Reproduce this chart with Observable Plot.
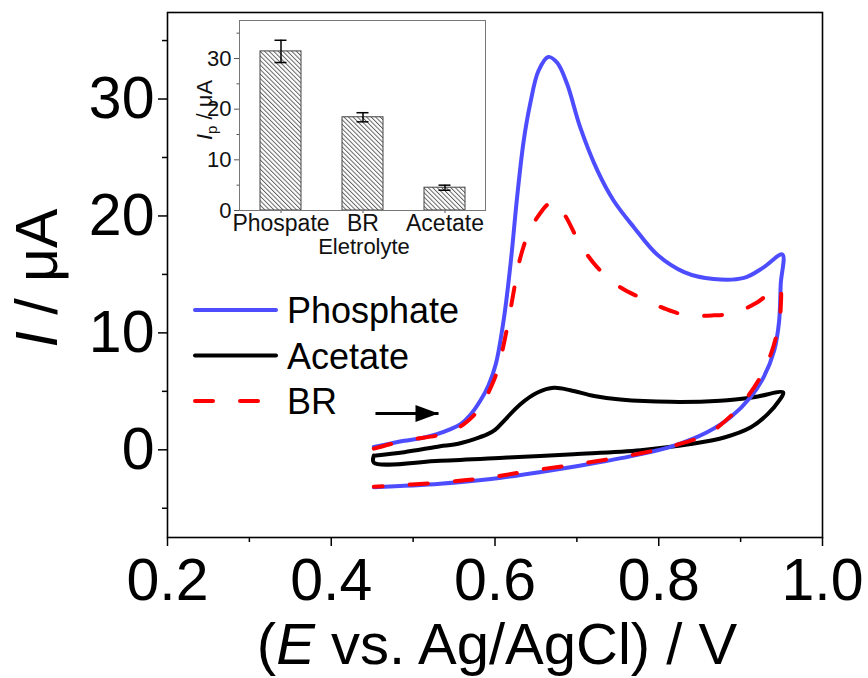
<!DOCTYPE html>
<html>
<head>
<meta charset="utf-8">
<script src="https://cdn.jsdelivr.net/npm/d3@7"></script>
<script src="https://cdn.jsdelivr.net/npm/@observablehq/plot@0.6"></script>
<style>
  html, body { margin: 0; padding: 0; background: white; }
  #chart { position: relative; width: 868px; height: 678px; }
  #chart svg { position: absolute; left: 0; top: 0; }
</style>
</head>
<body>
<div id="chart"></div>
<script>
// ---------- data ----------
const seriesNames = ["Phosphate", "Acetate", "BR"];

// cyclic voltammograms: [E (V vs Ag/AgCl), I (µA)], forward scan then reverse scan
const phosphate = [
  [0.452, 0.25], [0.470, 0.5], [0.489, 0.77], [0.510, 1.0], [0.529, 1.34], [0.545, 1.75],
  [0.558, 2.2], [0.570, 3.0], [0.582, 4.19], [0.592, 5.5], [0.601, 7.33], [0.611, 11.3],
  [0.619, 15.9], [0.627, 21.6], [0.635, 26.4], [0.643, 29.6], [0.653, 32.4], [0.665, 33.6],
  [0.676, 33.1], [0.688, 31.3], [0.704, 27.6], [0.725, 23.9], [0.745, 21.3], [0.770, 19.0],
  [0.798, 16.7], [0.831, 15.2], [0.867, 14.6], [0.904, 14.7], [0.928, 15.6], [0.951, 16.7],
  [0.949, 14.2], [0.947, 11.0], [0.941, 8.5], [0.928, 6.2], [0.912, 4.5], [0.888, 2.8],
  [0.859, 1.5], [0.818, 0.34], [0.778, -0.37], [0.717, -1.2], [0.656, -1.9], [0.595, -2.5],
  [0.533, -2.9], [0.452, -3.2]
];
const br = [
  [0.452, 0.1], [0.473, 0.5], [0.500, 0.9], [0.528, 1.2], [0.548, 1.6], [0.562, 2.2],
  [0.572, 2.8], [0.582, 3.6], [0.594, 5.2], [0.603, 6.8], [0.615, 10.5], [0.623, 13.6],
  [0.629, 15.9], [0.639, 18.2], [0.649, 19.6], [0.670, 21.2], [0.684, 20.2], [0.704, 17.6],
  [0.725, 15.6], [0.753, 13.9], [0.778, 13.0], [0.810, 12.0], [0.835, 11.5], [0.867, 11.5],
  [0.892, 11.7], [0.920, 12.6], [0.947, 13.9],
  [0.949, 12.2], [0.945, 10.2], [0.937, 8.2], [0.924, 6.2], [0.908, 4.5], [0.888, 2.9],
  [0.859, 1.34], [0.810, 0.2], [0.778, -0.3], [0.713, -1.1], [0.643, -1.8], [0.590, -2.4],
  [0.533, -2.8], [0.452, -3.15]
];
const acetate = [
  [0.452, -0.5], [0.489, -0.2], [0.533, 0.3], [0.550, 0.45], [0.574, 0.9], [0.591, 1.34],
  [0.600, 1.7], [0.611, 2.48], [0.631, 3.9], [0.652, 4.9], [0.672, 5.3], [0.692, 5.1],
  [0.721, 4.6], [0.753, 4.3], [0.814, 4.1], [0.875, 4.2], [0.916, 4.5], [0.952, 4.9],
  [0.947, 4.2], [0.933, 3.05], [0.912, 1.9], [0.880, 1.05], [0.839, 0.49], [0.778, -0.03],
  [0.696, -0.37], [0.615, -0.66], [0.533, -0.94], [0.452, -1.1], [0.452, -0.5]
];

// scan-direction arrow: [E start, E tip], current level
const arrowSpan = [0.454, 0.531];
const arrowLevel = 3.1;

// axes ticks
const xTicks = [0.2, 0.4, 0.6, 0.8, 1.0];
const xMinor = [0.3, 0.5, 0.7, 0.9];
const yTicks = [0, 10, 20, 30];
const yMinor = [-5, 5, 15, 25, 35];

// inset: peak current by electrolyte
const categories = ["Phospate", "BR", "Acetate"];
const peakCurrent = [31.4, 18.4, 4.5];
const peakError = [2.2, 0.9, 0.5];
const insetYTicks = [0, 10, 20, 30];
const insetYMinor = [5, 15, 25, 35];

// ---------- build ----------
const FONT = "'Liberation Sans', Arial, Helvetica, sans-serif";
const toRows = (arr, name) => arr.map(([E, I], i) => ({E, I, name, i}));
const colors = {Phosphate: "#4d4dff", Acetate: "#000000", BR: "#ff0000"};
const dashes = {Phosphate: null, Acetate: null, BR: "18,27"};

const arrowHead = {
  draw(ctx) { ctx.moveTo(0, 0); ctx.lineTo(-23, -8.5); ctx.lineTo(-23, 8.5); ctx.closePath(); }
};

const lineOpts = (name) => ({
  x: "E", y: "I", stroke: colors[name], strokeWidth: 4,
  strokeDasharray: dashes[name], strokeLinecap: "round", strokeLinejoin: "round",
  curve: "catmull-rom"
});

const main = Plot.plot({
  width: 868, height: 678,
  marginLeft: 167, marginRight: 46, marginTop: 12, marginBottom: 141,
  x: {domain: [0.2, 1.0]},
  y: {domain: [-7.5, 37.4]},
  style: {fontFamily: FONT, background: "white", color: "black"},
  marks: [
    Plot.axisX({ticks: xTicks, tickSize: 9, tickPadding: 12, strokeWidth: 1.5,
      tickFormat: d3.format(".1f"), fontSize: 59, label: null}),
    Plot.axisX({ticks: xMinor, tickSize: 5, strokeWidth: 1.5, tickFormat: () => "", label: null}),
    Plot.axisY({ticks: yTicks, tickSize: 9, tickPadding: 4, strokeWidth: 1.5,
      fontSize: 59, label: null}),
    Plot.axisY({ticks: yMinor, tickSize: 5, strokeWidth: 1.5, tickFormat: () => "", label: null}),
    Plot.line(toRows(acetate, "Acetate"), lineOpts("Acetate")),
    Plot.line(toRows(phosphate, "Phosphate"), lineOpts("Phosphate")),
    Plot.line(toRows(br, "BR"), lineOpts("BR")),
    Plot.link([{x1: arrowSpan[0], x2: arrowSpan[1], y: arrowLevel}],
      {x1: "x1", x2: "x2", y1: "y", y2: "y", stroke: "black", strokeWidth: 3}),
    Plot.dot([{x: arrowSpan[1], y: arrowLevel}],
      {x: "x", y: "y", symbol: arrowHead, fill: "black", stroke: "none", r: 5}),
    Plot.frame({stroke: "black", strokeWidth: 1.6})
  ]
});

// inset
const barRows = categories.map((c, i) => ({
  cat: c, v: peakCurrent[i], lo: peakCurrent[i] - peakError[i], hi: peakCurrent[i] + peakError[i]
}));

const inset = Plot.plot({
  width: 868, height: 678,
  marginLeft: 239, marginRight: 383, marginTop: 20, marginBottom: 468,
  x: {domain: categories, paddingInner: 0.5, paddingOuter: 0.25},
  y: {domain: [0, 37.5]},
  style: {fontFamily: FONT, background: "transparent", color: "#111", pointerEvents: "none"},
  marks: [
    Plot.barY(barRows, {x: "cat", y: "v", fill: "url(#hatch)", stroke: "#444", strokeWidth: 1}),
    Plot.ruleX(barRows, {x: "cat", y1: "lo", y2: "hi", stroke: "black", strokeWidth: 1.5}),
    Plot.tickY(barRows, {x: "cat", y: "lo", stroke: "black", strokeWidth: 1.5, insetLeft: 14.5, insetRight: 14.5}),
    Plot.tickY(barRows, {x: "cat", y: "hi", stroke: "black", strokeWidth: 1.5, insetLeft: 14.5, insetRight: 14.5}),
    Plot.axisX({tickSize: 3, tickPadding: 1.5, fontSize: 23, stroke: "#555", label: null}),
    Plot.axisY({ticks: insetYTicks, tickSize: 5, tickPadding: 3, fontSize: 22, stroke: "#555", label: null}),
    Plot.axisY({ticks: insetYMinor, tickSize: 2.5, stroke: "#555", tickFormat: () => "", label: null}),
    Plot.frame({stroke: "#777", strokeWidth: 1})
  ]
});

d3.select(inset).insert("defs", ":first-child").html(
  `<pattern id="hatch" patternUnits="userSpaceOnUse" width="3.2" height="3.2" patternTransform="rotate(-45)">
     <rect width="3.2" height="3.2" fill="white"></rect>
     <line x1="0.5" y1="0" x2="0.5" y2="3.2" stroke="#555" stroke-width="0.9"></line>
   </pattern>`
);

// titles & legend (real text)
const ms = d3.select(main);
ms.append("text")
  .attr("transform", "translate(57,278) rotate(-90)")
  .attr("text-anchor", "middle").attr("font-size", 59).attr("fill", "black")
  .attr("font-family", FONT)
  .call(t => {
    t.append("tspan").attr("font-style", "italic").text("I");
    t.append("tspan").text(" / μA");
  });
ms.append("text")
  .attr("x", 497).attr("y", 664)
  .attr("text-anchor", "middle").attr("font-size", 58).attr("fill", "black")
  .attr("font-family", FONT)
  .call(t => {
    t.append("tspan").text("(");
    t.append("tspan").attr("font-style", "italic").text("E");
    t.append("tspan").text(" vs. Ag/AgCl) / V");
  });

const legend = ms.append("g").attr("font-family", FONT).attr("text-anchor", "start");
seriesNames.forEach((name, i) => {
  const y = 310 + i * 45.5;
  legend.append("line")
    .attr("x1", 195).attr("x2", 276).attr("y1", y).attr("y2", y)
    .attr("stroke", colors[name]).attr("stroke-width", 4)
    .attr("stroke-linecap", "round")
    .attr("stroke-dasharray", dashes[name]);
  legend.append("text")
    .attr("x", 287).attr("y", y + 13)
    .attr("text-anchor", "start")
    .attr("font-size", 36).attr("fill", "black")
    .text(name);
});

const is = d3.select(inset);
is.append("text")
  .attr("transform", "translate(212,110) rotate(-90)")
  .attr("text-anchor", "middle").attr("font-size", 22).attr("fill", "#111")
  .attr("font-family", FONT)
  .call(t => {
    t.append("tspan").attr("font-style", "italic").text("I");
    t.append("tspan").attr("font-size", 15).attr("dy", 5).text("p");
    t.append("tspan").attr("dy", -5).text(" / μA");
  });
is.append("text")
  .attr("x", 364).attr("y", 254)
  .attr("text-anchor", "middle").attr("font-size", 22).attr("fill", "#111")
  .attr("font-family", FONT)
  .text("Eletrolyte");

const chart = document.getElementById("chart");
chart.appendChild(main);
chart.appendChild(inset);
</script>
</body>
</html>
